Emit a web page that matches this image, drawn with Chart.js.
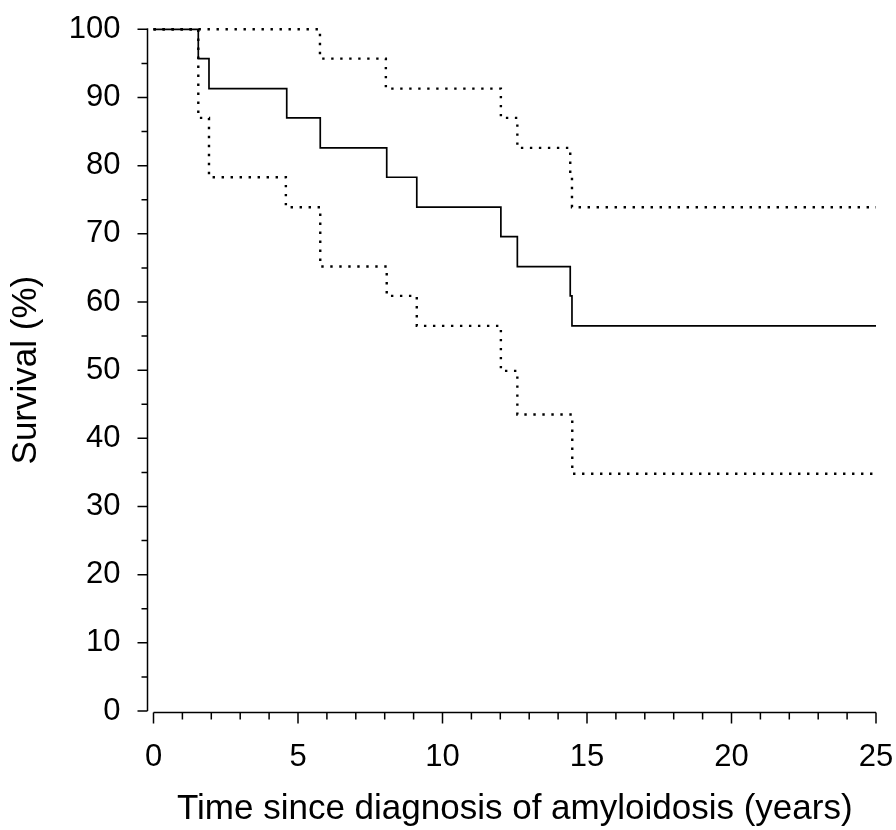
<!DOCTYPE html>
<html>
<head>
<meta charset="utf-8">
<script src="https://cdn.jsdelivr.net/npm/chart.js@4/dist/chart.umd.min.js"></script>
<style>
  body { margin: 0; background: #fff; }
  canvas { display: block; }
</style>
</head>
<body>
<canvas id="km" width="896" height="830"></canvas>
<script>
// Kaplan-Meier survival (years, %)
const survTimes = [0, 1.55, 1.92, 4.61, 5.77, 8.07, 9.11, 12.02, 12.59, 14.42, 14.48, 25];
const survValues = [100, 95.7, 91.3, 87.0, 82.6, 78.3, 73.9, 69.6, 65.2, 60.9, 56.5, 56.5];

const upperTimes = [0, 5.76, 8.04, 12.02, 12.59, 14.42, 14.48, 25];
const upperValues = [100, 95.7, 91.3, 87.0, 82.6, 78.3, 73.9, 73.9];

const lowerTimes = [0, 1.55, 1.92, 4.58, 5.77, 8.07, 9.11, 12.02, 12.59, 14.49, 25];
const lowerValues = [100, 87.0, 78.3, 73.9, 65.2, 60.9, 56.5, 49.9, 43.5, 34.8, 34.8];

const xTicks = [0, 5, 10, 15, 20, 25];
const yTicks = [0, 10, 20, 30, 40, 50, 60, 70, 80, 90, 100];

const xTitle = 'Time since diagnosis of amyloidosis (years)';
const yTitle = 'Survival (%)';

const toPoints = (xs, ys) => xs.map((x, i) => ({ x: x, y: ys[i] }));

// no label overflow padding, so the plot area sits where we put it
const noPad = s => { s.paddingLeft = 0; s.paddingRight = 0; s.paddingTop = 0; s.paddingBottom = 0; };

// axis lines with major + minor ticks, detached like the original
const axesPlugin = {
    id: 'axesPlugin',
    afterDraw(chart) {
        const ctx = chart.ctx;
        const x = chart.scales.x, y = chart.scales.y;
        const yAxisX = x.getPixelForValue(0) - 6;
        const xAxisY = y.getPixelForValue(0) + 1.5;
        ctx.save();
        ctx.strokeStyle = '#000';
        ctx.lineWidth = 1.5;
        ctx.beginPath();
        ctx.moveTo(yAxisX, y.getPixelForValue(100) - 1);
        ctx.lineTo(yAxisX, y.getPixelForValue(0));
        for (let v = 0; v <= 100; v += 5) {
            const py = y.getPixelForValue(v);
            ctx.moveTo(yAxisX, py);
            ctx.lineTo(yAxisX - (v % 10 === 0 ? 10 : 6), py);
        }
        ctx.moveTo(x.getPixelForValue(0), xAxisY);
        ctx.lineTo(x.getPixelForValue(25), xAxisY);
        for (let t = 0; t <= 25; t += 1) {
            const px = x.getPixelForValue(t);
            ctx.moveTo(px, xAxisY);
            ctx.lineTo(px, xAxisY + (t % 5 === 0 ? 11 : 7));
        }
        ctx.stroke();
        ctx.restore();
    }
};

const ciStyle = { borderColor: '#000', borderWidth: 2.4, borderDash: [2.4, 6.6], stepped: 'before', pointRadius: 0, fill: false, clip: false };

new Chart(document.getElementById('km'), {
    type: 'line',
    data: {
        datasets: [
            Object.assign({ data: toPoints(upperTimes, upperValues) }, ciStyle),
            Object.assign({ data: toPoints(lowerTimes, lowerValues) }, ciStyle),
            { data: toPoints(survTimes, survValues), borderColor: '#000', borderWidth: 1.7, stepped: 'before', pointRadius: 0, fill: false, clip: false }
        ]
    },
    options: {
        responsive: false,
        animation: false,
        layout: { padding: { top: 29.3, right: 20, left: 0, bottom: 0 } },
        plugins: { legend: { display: false }, tooltip: { enabled: false } },
        scales: {
            x: {
                type: 'linear', min: 0, max: 25,
                grid: { display: false, drawTicks: false, tickLength: 0 }, border: { display: false },
                afterBuildTicks: s => { s.ticks = xTicks.map(v => ({ value: v })); },
                afterFit: s => { s.height = 119; noPad(s); },
                ticks: { color: '#000', padding: 28, maxRotation: 0, font: { family: 'Liberation Sans, Arial', size: 31 } },
                title: { display: true, text: xTitle, color: '#000', padding: { top: 0, bottom: 0 }, font: { family: 'Liberation Sans, Arial', size: 35 } }
            },
            y: {
                min: 0, max: 100,
                grid: { display: false, drawTicks: false, tickLength: 0 }, border: { display: false },
                afterBuildTicks: s => { s.ticks = yTicks.map(v => ({ value: v })); },
                afterFit: s => { s.width = 153.5; noPad(s); },
                ticks: { color: '#000', padding: 33, font: { family: 'Liberation Sans, Arial', size: 31 } },
                title: { display: true, text: yTitle, color: '#000', padding: { top: 5, bottom: 0 }, font: { family: 'Liberation Sans, Arial', size: 35 } }
            }
        }
    },
    plugins: [axesPlugin]
});
</script>
</body>
</html>
